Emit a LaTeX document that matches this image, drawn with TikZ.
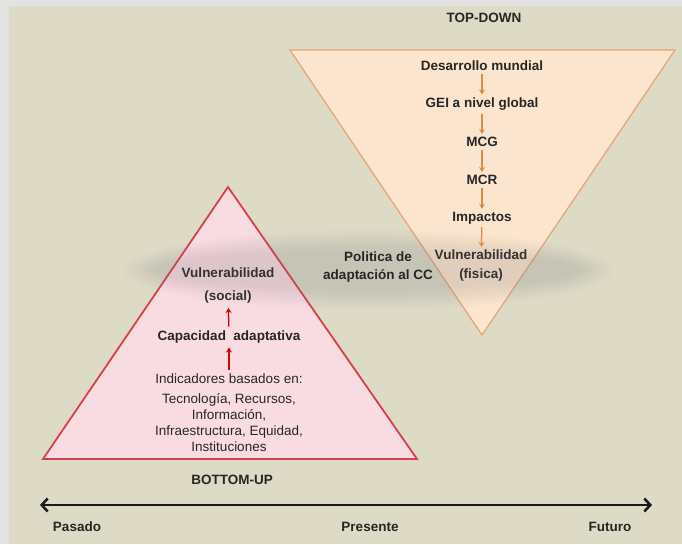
\documentclass[tikz,border=0pt]{standalone}
\usepackage{fontspec}
\setmainfont{Liberation Sans}
\usetikzlibrary{arrows.meta}

\definecolor{marco}{HTML}{E3E3E3}
\definecolor{fondo}{HTML}{DDDAC5}
\definecolor{durazno}{HTML}{FCE5CE}
\definecolor{naranja}{HTML}{E3A476}
\definecolor{flechanar}{HTML}{E08A45}
\definecolor{rosa}{HTML}{F9DCE2}
\definecolor{rojo}{HTML}{D8404E}
\definecolor{texto}{HTML}{262626}

\tikzset{
	every node/.style = {text=texto, inner sep=1pt, font=\fontsize{13.5}{16}\selectfont},
	neg/.style = {font=\fontsize{13.5}{16}\selectfont\bfseries},
	vul/.style = {align=center, text=black!80, font=\fontsize{13.5}{#1}\selectfont\bfseries},
	flechaN/.style = {draw=flechanar, line width=1.3pt, -{Stealth[length=5pt, width=6pt]}, shorten <=2pt, shorten >=2pt},
	flechaR/.style = {draw=red!85!black, line width=1.3pt, -{Stealth[length=5pt, width=6pt]}, shorten <=3pt, shorten >=3pt},
}

\begin{document}
\begin{tikzpicture}[x=1pt, y=-1pt]
		\fill[marco] (0,0) rectangle (682,544);
		\fill[fondo] (9,6) rectangle (682,544);
		
		\filldraw[fill=durazno, draw=naranja, line width=1.2pt] (290,50) -- (675,50) -- (482,335) -- cycle;
		\filldraw[fill=rosa, draw=rojo, line width=1.8pt] (228,187) -- (417,459) -- (43,459) -- cycle;
		
		\foreach \k in {0,...,7}
			\fill[gray, opacity=0.028] (368,270) ellipse [x radius={244-5*\k}, y radius={40-3*\k}];
		
		\node[neg] (top) at (484,18) {TOP-DOWN};
		\node[neg] (dm) at (482,66) {Desarrollo mundial};
		\node[neg] (gei) at (482,104) {GEI a nivel global};
		\node[neg] (mcg) at (482,142) {MCG};
		\node[neg] (mcr) at (482,180) {MCR};
		\node[neg] (imp) at (482,218) {Impactos};
		\node[vul=19] (vf) at (481,266) {Vulnerabilidad\\(fisica)};
		
		\draw[flechaN] (dm) -- (gei);
		\draw[flechaN] (gei) -- (mcg);
		\draw[flechaN] (mcg) -- (mcr);
		\draw[flechaN] (mcr) -- (imp);
		\draw[flechaN] (imp) -- (vf);
		
		\node[neg, align=center, font=\fontsize{13.5}{18}\selectfont\bfseries] (pol) at (378,267) {Politica de\\adaptación al CC};
		
		\node[vul=23] (vs) at (228,286) {Vulnerabilidad\\(social)};
		\node[neg] (cap) at (229,337) {Capacidad\ \ adaptativa};
		\node[align=center] (ind) at (229,413) {Indicadores basados en:\\[4pt]Tecnología, Recursos,\\Información,\\Infraestructura, Equidad,\\Instituciones};
		
		\draw[flechaR] (cap) -- (vs);
		\draw[flechaR] (ind) -- (cap);
		
		\node[neg] (bu) at (232,480) {BOTTOM-UP};
		
		\coordinate (ini) at (40,505);
		\coordinate (fin) at (652,505);
		\draw[black!90, line width=2.5pt, {Straight Barb[length=6pt, width=13pt]}-{Straight Barb[length=6pt, width=13pt]}] (ini) -- (fin);
		
		\node[neg] (pas) at (77,527) {Pasado};
		\node[neg] (pre) at (370,527) {Presente};
		\node[neg] (fut) at (610,527) {Futuro};
	\end{tikzpicture}
\end{document}
